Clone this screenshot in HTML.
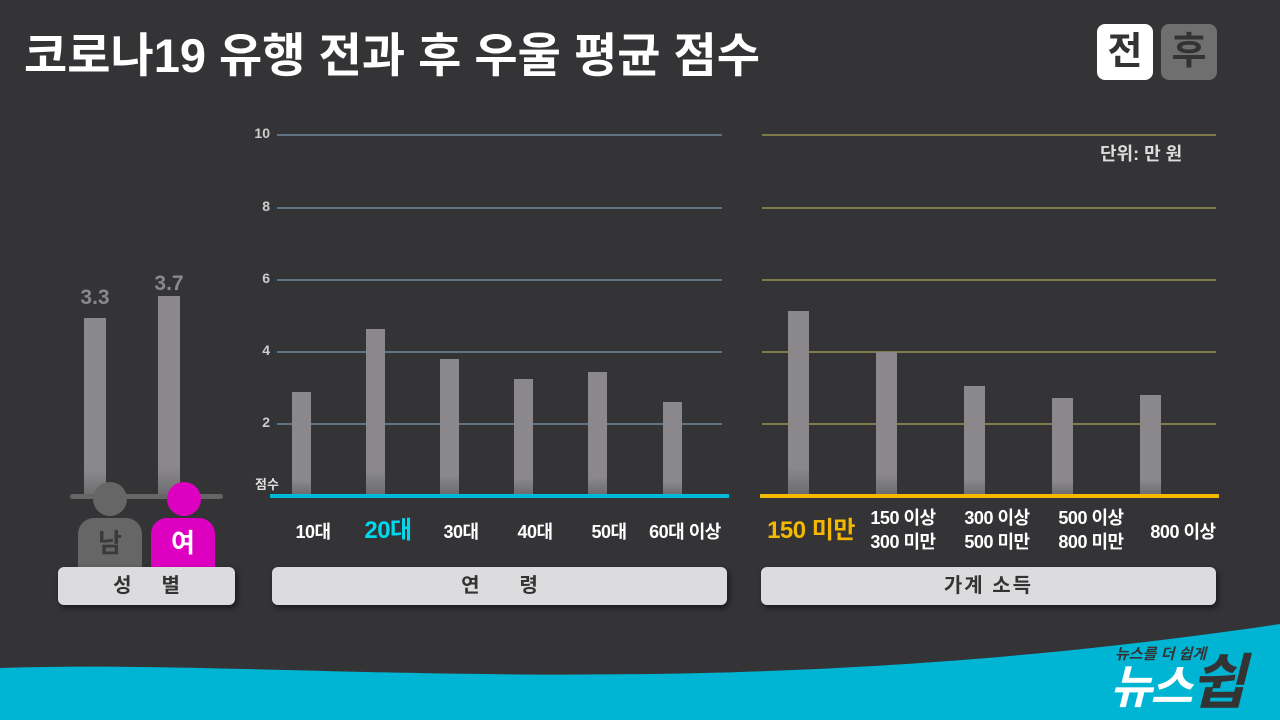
<!DOCTYPE html>
<html><head><meta charset="utf-8"><style>
html,body{margin:0;width:1280px;height:720px;overflow:hidden}
body{background:#343437;font-family:"Liberation Sans","Noto Sans CJK KR",sans-serif;position:relative}
.a{position:absolute}
.t{color:#fff;font-weight:bold}
.bar{position:absolute;background:linear-gradient(#8a888a,#8a888a 85%,#6a696b);}
.grid{position:absolute;height:2px}
.lab{position:absolute;color:#fff;font-size:18px;text-align:center;font-weight:bold;line-height:24px;letter-spacing:-0.5px}
.panel{position:absolute;top:567px;height:38px;background:#dcdcde;border-radius:6px;box-shadow:2px 3px 6px rgba(0,0,0,.5);text-align:center;line-height:38px;font-size:20px;font-weight:bold;color:#333;letter-spacing:2px}
.tick{position:absolute;color:#ccc;font-size:14px;font-weight:bold;left:240px;width:30px;text-align:right}
</style></head><body>
<div class="a t" style="left:24px;top:17px;font-size:47px;letter-spacing:0px;white-space:nowrap">코로나19 유행 전과 후 우울 평균 점수</div>
<div class="a" style="left:1097px;top:24px;width:56px;height:56px;background:#fff;border-radius:8px;color:#333;font-size:38px;font-weight:bold;text-align:center;line-height:56px">전</div>
<div class="a" style="left:1161px;top:24px;width:56px;height:56px;background:#6f6f70;border-radius:8px;color:#333;font-size:38px;font-weight:bold;text-align:center;line-height:56px">후</div>

<div class="grid" style="left:277px;width:445px;top:134px;background:#5f7385"></div>
<div class="grid" style="left:277px;width:445px;top:207px;background:#5f7385"></div>
<div class="grid" style="left:277px;width:445px;top:279px;background:#5f7385"></div>
<div class="grid" style="left:277px;width:445px;top:351px;background:#5f7385"></div>
<div class="grid" style="left:277px;width:445px;top:423px;background:#5f7385"></div>
<div class="tick" style="top:125px">10</div>
<div class="tick" style="top:198px">8</div>
<div class="tick" style="top:270px">6</div>
<div class="tick" style="top:342px">4</div>
<div class="tick" style="top:414px">2</div>
<div class="a" style="left:255px;top:474px;color:#ddd;font-size:13px;font-weight:bold">점수</div>
<div class="grid" style="left:762px;width:454px;top:134px;background:#7f7a4a"></div>
<div class="grid" style="left:762px;width:454px;top:207px;background:#7f7a4a"></div>
<div class="grid" style="left:762px;width:454px;top:279px;background:#7f7a4a"></div>
<div class="grid" style="left:762px;width:454px;top:351px;background:#7f7a4a"></div>
<div class="grid" style="left:762px;width:454px;top:423px;background:#7f7a4a"></div>
<div class="a" style="left:1100px;top:140px;color:#ddd;font-size:18px;font-weight:bold">단위: 만 원</div>

<div class="bar" style="left:292px;width:19px;top:392px;height:104px"></div>
<div class="bar" style="left:366px;width:19px;top:329px;height:167px"></div>
<div class="bar" style="left:440px;width:19px;top:359px;height:137px"></div>
<div class="bar" style="left:514px;width:19px;top:379px;height:117px"></div>
<div class="bar" style="left:588px;width:19px;top:372px;height:124px"></div>
<div class="bar" style="left:663px;width:19px;top:402px;height:94px"></div>
<div class="bar" style="left:788px;width:21px;top:311px;height:185px"></div>
<div class="bar" style="left:876px;width:21px;top:352px;height:144px"></div>
<div class="bar" style="left:964px;width:21px;top:386px;height:110px"></div>
<div class="bar" style="left:1052px;width:21px;top:398px;height:98px"></div>
<div class="bar" style="left:1140px;width:21px;top:395px;height:101px"></div>

<div class="a" style="left:270px;top:494px;width:459px;height:4px;background:#00b8d8"></div>
<div class="a" style="left:760px;top:494px;width:459px;height:4px;background:#f5b800"></div>

<div class="bar" style="left:84px;width:22px;top:318px;height:180px"></div>
<div class="bar" style="left:158px;width:22px;top:296px;height:202px"></div>
<div class="a" style="left:70px;top:286px;width:50px;text-align:center;color:#8a888a;font-size:21px;font-weight:bold">3.3</div>
<div class="a" style="left:144px;top:272px;width:50px;text-align:center;color:#8a888a;font-size:21px;font-weight:bold">3.7</div>
<div class="a" style="left:70px;top:494px;width:153px;height:5px;background:#666;border-radius:3px"></div>
<div class="a" style="left:93px;top:482px;width:34px;height:34px;border-radius:50%;background:#666"></div>
<div class="a" style="left:167px;top:482px;width:34px;height:34px;border-radius:50%;background:#dd00c0"></div>
<div class="a" style="left:78px;top:518px;width:64px;height:52px;background:#666;border-radius:16px 16px 0 0;text-align:center;color:#3a3a3a;font-size:26px;font-weight:bold;line-height:50px">남</div>
<div class="a" style="left:151px;top:518px;width:64px;height:52px;background:#dd00c0;border-radius:16px 16px 0 0;text-align:center;color:#fff;font-size:26px;font-weight:bold;line-height:50px">여</div>

<div class="lab" style="left:283px;width:60px;top:520px">10대</div>
<div class="lab" style="left:350px;width:76px;top:519px;color:#00d8f0;font-size:24px">20대</div>
<div class="lab" style="left:431px;width:60px;top:520px">30대</div>
<div class="lab" style="left:505px;width:60px;top:520px">40대</div>
<div class="lab" style="left:579px;width:60px;top:520px">50대</div>
<div class="lab" style="left:638px;width:94px;top:520px">60대 이상</div>
<div class="lab" style="left:758px;width:106px;top:519px;color:#f5b800;font-size:24px">150 미만</div>
<div class="lab" style="left:860px;width:86px;top:506px">150 이상<br>300 미만</div>
<div class="lab" style="left:954px;width:86px;top:506px">300 이상<br>500 미만</div>
<div class="lab" style="left:1048px;width:86px;top:506px">500 이상<br>800 미만</div>
<div class="lab" style="left:1140px;width:86px;top:520px">800 이상</div>

<div class="panel" style="left:58px;width:177px;letter-spacing:30px;text-indent:30px">성별</div>
<div class="panel" style="left:272px;width:455px;letter-spacing:40px;text-indent:40px">연령</div>
<div class="panel" style="left:761px;width:455px">가계 소득</div>

<svg class="a" style="left:0;top:600px" width="1280" height="120"><path d="M0,68 C300,58 700,110 1280,24 L1280,120 L0,120 Z" fill="#00b5d4"/></svg>
<div class="a" style="left:1115px;top:646px;color:#333;font-size:15px;font-weight:bold;font-style:italic;line-height:18px">뉴스를 더 쉽게</div>
<div class="a" style="left:1110px;top:650px;height:70px;color:#fff;font-size:46px;font-weight:bold;font-style:italic;letter-spacing:-2px;line-height:66px;white-space:nowrap">뉴스<span style="color:#333;font-size:60px">쉽</span></div>
</body></html>
